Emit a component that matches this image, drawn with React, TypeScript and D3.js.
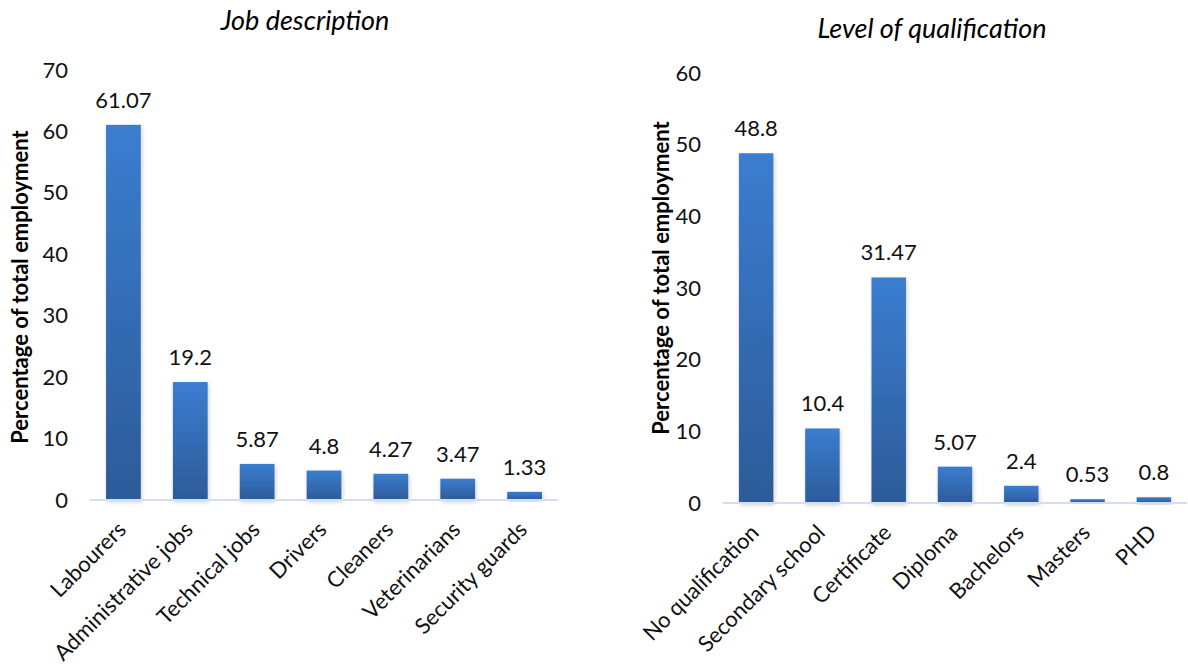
import { useEffect, useRef } from "react";
import * as d3 from "d3";

const jobCategories = [
  "Labourers",
  "Administrative jobs",
  "Technical jobs",
  "Drivers",
  "Cleaners",
  "Veterinarians",
  "Security guards",
];
const jobValues = [61.07, 19.2, 5.87, 4.8, 4.27, 3.47, 1.33];
const jobTicks = [0, 10, 20, 30, 40, 50, 60, 70];

const qualCategories = [
  "No qualification",
  "Secondary school",
  "Certificate",
  "Diploma",
  "Bachelors",
  "Masters",
  "PHD",
];
const qualValues = [48.8, 10.4, 31.47, 5.07, 2.4, 0.53, 0.8];
const qualTicks = [0, 10, 20, 30, 40, 50, 60];

const FONT = "Lato, 'Open Sans', sans-serif";

interface PanelSpec {
  title: string;
  titleX: number;
  titleY: number;
  categories: string[];
  values: number[];
  ticks: number[];
  x0: number;
  x1: number;
  yTop: number;
  yBottom: number;
  tickRight: number;
  axisTitleX: number;
  axisTitleY: number;
}

function drawPanel(root: d3.Selection<SVGSVGElement, unknown, null, undefined>, p: PanelSpec) {
  const g = root.append("g");
  const maxTick = p.ticks[p.ticks.length - 1];

  const x = d3
    .scaleBand()
    .domain(p.categories)
    .range([p.x0, p.x1])
    .paddingInner(0.48)
    .paddingOuter(0.24);
  const y = d3.scaleLinear().domain([0, maxTick]).range([p.yBottom, p.yTop]);

  // title
  g.append("text")
    .attr("x", p.titleX)
    .attr("y", p.titleY)
    .attr("text-anchor", "middle")
    .attr("font-style", "italic")
    .attr("font-size", 27)
    .attr("font-family", FONT)
    .attr("fill", "#000")
    .text(p.title);

  // y axis title
  g.append("text")
    .attr("transform", `translate(${p.axisTitleX},${p.axisTitleY}) rotate(-90)`)
    .attr("text-anchor", "middle")
    .attr("font-weight", "bold")
    .attr("font-size", 22)
    .attr("font-family", FONT)
    .attr("fill", "#000")
    .text("Percentage of total employment");

  // y tick labels
  const yAxis = g
    .append("g")
    .attr("transform", `translate(${p.tickRight},0)`)
    .call(d3.axisLeft(y).tickValues(p.ticks).tickSize(0).tickPadding(0));
  yAxis.select(".domain").remove();
  yAxis
    .selectAll("text")
    .attr("font-size", 22)
    .attr("font-family", FONT)
    .attr("fill", "#111");

  // bars
  g.selectAll(".bar")
    .data(p.values)
    .join("rect")
    .attr("class", "bar")
    .attr("x", (_, i) => x(p.categories[i]) || 0)
    .attr("y", (d) => y(d))
    .attr("width", x.bandwidth())
    .attr("height", (d) => y(0) - y(d))
    .attr("fill", "url(#barGrad)")
    .attr("filter", "url(#barShadow)");

  // baseline
  g.append("line")
    .attr("x1", p.x0)
    .attr("x2", p.x1)
    .attr("y1", y(0))
    .attr("y2", y(0))
    .attr("stroke", "#d3dff0")
    .attr("stroke-width", 2);

  // value labels
  g.selectAll(".val")
    .data(p.values)
    .join("text")
    .attr("class", "val")
    .attr("x", (_, i) => (x(p.categories[i]) || 0) + x.bandwidth() / 2)
    .attr("y", (d) => y(d) - 17)
    .attr("text-anchor", "middle")
    .attr("font-size", 22)
    .attr("font-family", FONT)
    .attr("fill", "#111")
    .text((d) => String(d));

  // category labels
  g.selectAll(".cat")
    .data(p.categories)
    .join("text")
    .attr("class", "cat")
    .attr(
      "transform",
      (d) => `translate(${(x(d) || 0) + x.bandwidth() / 2 + 4},${y(0) + 31}) rotate(-45)`
    )
    .attr("text-anchor", "end")
    .attr("font-size", 22)
    .attr("font-family", FONT)
    .attr("fill", "#111")
    .text((d) => d);
}

export default function App() {
  const svgRef = useRef<SVGSVGElement>(null);

  useEffect(() => {
    if (!svgRef.current) return;
    const svg = d3.select(svgRef.current);
    svg.selectAll("*").remove();

    const defs = svg.append("defs");
    const grad = defs
      .append("linearGradient")
      .attr("id", "barGrad")
      .attr("x1", 0)
      .attr("y1", 0)
      .attr("x2", 0)
      .attr("y2", 1);
    grad.append("stop").attr("offset", "0%").attr("stop-color", "#3b7dd0");
    grad.append("stop").attr("offset", "100%").attr("stop-color", "#2c5b98");

    const f = defs
      .append("filter")
      .attr("id", "barShadow")
      .attr("x", "-30%")
      .attr("y", "-10%")
      .attr("width", "160%")
      .attr("height", "130%");
    f.append("feDropShadow")
      .attr("dx", 1)
      .attr("dy", 2)
      .attr("stdDeviation", 2)
      .attr("flood-color", "#000")
      .attr("flood-opacity", 0.2);

    drawPanel(svg, {
      title: "Job description",
      titleX: 305,
      titleY: 30,
      categories: jobCategories,
      values: jobValues,
      ticks: jobTicks,
      x0: 90,
      x1: 558,
      yTop: 70,
      yBottom: 500,
      tickRight: 68,
      axisTitleX: 28,
      axisTitleY: 287,
    });

    drawPanel(svg, {
      title: "Level of qualification",
      titleX: 932,
      titleY: 38,
      categories: qualCategories,
      values: qualValues,
      ticks: qualTicks,
      x0: 723,
      x1: 1187,
      yTop: 73,
      yBottom: 503,
      tickRight: 701,
      axisTitleX: 669,
      axisTitleY: 278,
    });
  }, []);

  return (
    <svg
      ref={svgRef}
      width={1188}
      height={666}
      style={{ position: "absolute", left: 0, top: 0, background: "#fff" }}
    ></svg>
  );
}
